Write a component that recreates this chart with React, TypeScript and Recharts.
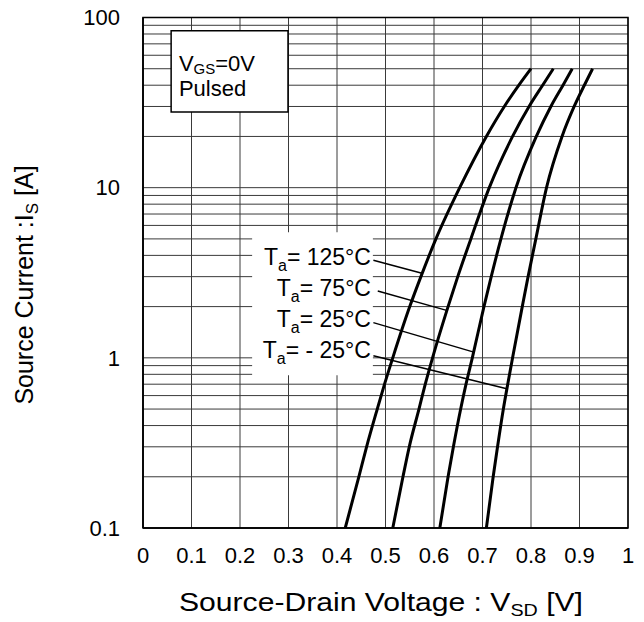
import React from "react";
import {
  LineChart,
  Line,
  XAxis,
  YAxis,
  CartesianGrid,
  ReferenceArea,
  ReferenceLine,
  ReferenceDot,
} from "recharts";

const FONT = "'Liberation Sans', Arial, sans-serif";

// I_S [A] levels at which the curves were read
const current = [0.1, 0.2, 0.3, 0.5, 0.7, 1, 2, 3, 5, 10, 20, 30, 40, 50];

// V_SD [V] at those levels, one list per temperature
const vsd125 = [0.417, 0.445, 0.461, 0.483, 0.498, 0.515, 0.55, 0.573, 0.604, 0.653, 0.708, 0.745, 0.775, 0.8];
const vsd75 = [0.515, 0.536, 0.549, 0.569, 0.582, 0.597, 0.629, 0.649, 0.676, 0.714, 0.762, 0.796, 0.824, 0.846];
const vsd25 = [0.612, 0.629, 0.64, 0.655, 0.666, 0.679, 0.703, 0.718, 0.738, 0.769, 0.811, 0.841, 0.866, 0.885];
const vsdM25 = [0.708, 0.722, 0.731, 0.743, 0.752, 0.762, 0.782, 0.794, 0.81, 0.832, 0.864, 0.889, 0.91, 0.927];

const tempLabels = ["125°C", "75°C", "25°C", "- 25°C"];
// label anchor (right end, baseline) and leader lines to each curve
const labelX = 0.47;
const labelY = [3.5, 2.3, 1.51, 0.993];
const leaderStart = [
  [0.475, 3.75],
  [0.484, 2.47],
  [0.475, 1.61],
  [0.475, 1.03],
];
const leaderEnd = [
  [0.577, 3.13],
  [0.626, 1.9],
  [0.682, 1.08],
  [0.75, 0.659],
];

const xTicks = [0, 0.1, 0.2, 0.3, 0.4, 0.5, 0.6, 0.7, 0.8, 0.9, 1];
const yTicks = [
  0.1, 0.2, 0.3, 0.4, 0.5, 0.6, 0.7, 0.8, 0.9,
  1, 2, 3, 4, 5, 6, 7, 8, 9,
  10, 20, 30, 40, 50, 60, 70, 80, 90,
  100,
];
const yLabelled = [0.1, 1, 10, 100];

const toRows = (xs: number[]) => xs.map((v, i) => ({ v, i: current[i] }));
const series = [vsd125, vsd75, vsd25, vsdM25].map(toRows);

function TaLabel(props: any) {
  const { cx, cy, name } = props;
  return (
    <text x={cx} y={cy} textAnchor="end" fontSize={23} fontFamily={FONT} fill="#000">
      T
      <tspan fontSize={16} dy={6}>a</tspan>
      <tspan dy={-6}>= {name}</tspan>
    </text>
  );
}

function CondLabel(props: any) {
  const { cx, cy } = props;
  return (
    <g fontFamily={FONT} fill="#000">
      <text x={cx} y={cy} fontSize={22}>
        V
        <tspan fontSize={15} dy={3}>GS</tspan>
        <tspan dy={-3}>=0V</tspan>
      </text>
      <text x={cx} y={cy + 25} fontSize={22}>
        Pulsed
      </text>
    </g>
  );
}

export default function App() {
  return (
    <div style={{ position: "absolute", left: 0, top: 0, width: 644, height: 622, fontFamily: FONT }}>
      <LineChart
        width={644}
        height={622}
        margin={{ top: 17.5, right: 16, left: 0, bottom: 0 }}
      >
        <CartesianGrid stroke="#3a3a3a" strokeWidth={1} />
        <XAxis
          type="number"
          dataKey="v"
          domain={[0, 1]}
          ticks={xTicks}
          interval={0}
          height={94}
          tickLine={false}
          tickMargin={13}
          axisLine={{ stroke: "#000", strokeWidth: 1.5 }}
          tick={{ fill: "#000", fontSize: 22, fontFamily: FONT }}
          allowDataOverflow
        />
        <YAxis
          type="number"
          scale="log"
          domain={[0.1, 100]}
          ticks={yTicks}
          interval={0}
          width={143}
          tickLine={false}
          tickMargin={17}
          axisLine={{ stroke: "#000", strokeWidth: 1.5 }}
          tick={{ fill: "#000", fontSize: 22, fontFamily: FONT }}
          tickFormatter={(t: number) => (yLabelled.includes(t) ? String(t) : "")}
          allowDataOverflow
        />
        <ReferenceArea x1={0} x2={1} y1={0.1} y2={100} fill="none" stroke="#000" strokeWidth={1.5} />
        <ReferenceArea x1={0.058} x2={0.299} y1={27.8} y2={83.6} fill="#fff" fillOpacity={1} stroke="#000" strokeWidth={1.5} />
        <ReferenceArea x1={0.225} x2={0.474} y1={0.789} y2={5.47} fill="#fff" fillOpacity={1} stroke="none" />
        {leaderStart.map((s, k) => (
          <ReferenceLine
            key={"l" + k}
            segment={[
              { x: s[0], y: s[1] },
              { x: leaderEnd[k][0], y: leaderEnd[k][1] },
            ]}
            stroke="#000"
            strokeWidth={1.5}
          />
        ))}
        {series.map((d, k) => (
          <Line
            key={"s" + k}
            data={d}
            dataKey="i"
            type="monotone"
            stroke="#000"
            strokeWidth={3}
            dot={false}
            isAnimationActive={false}
          />
        ))}
        {tempLabels.map((name, k) => (
          <ReferenceDot
            key={"t" + k}
            x={labelX}
            y={labelY[k]}
            r={0}
            shape={(p: any) => <TaLabel {...p} name={name} />}
          />
        ))}
        <ReferenceDot x={0.074} y={48.7} r={0} shape={(p: any) => <CondLabel {...p} />} />
      </LineChart>
      <svg
        width={644}
        height={622}
        style={{ position: "absolute", left: 0, top: 0, pointerEvents: "none" }}
      >
        <text
          x={381}
          y={611}
          textAnchor="middle"
          fontSize={26}
          fontFamily={FONT}
          fill="#000"
          textLength={404}
          lengthAdjust="spacingAndGlyphs"
        >
          Source-Drain Voltage : V
          <tspan fontSize={17} dy={5}>SD</tspan>
          <tspan dy={-5}> [V]</tspan>
        </text>
        <text
          transform="rotate(-90)"
          x={-285}
          y={33}
          textAnchor="middle"
          fontSize={25}
          fontFamily={FONT}
          fill="#000"
        >
          Source Current :I
          <tspan fontSize={17} dy={5}>S</tspan>
          <tspan dy={-5}> [A]</tspan>
        </text>
      </svg>
    </div>
  );
}
